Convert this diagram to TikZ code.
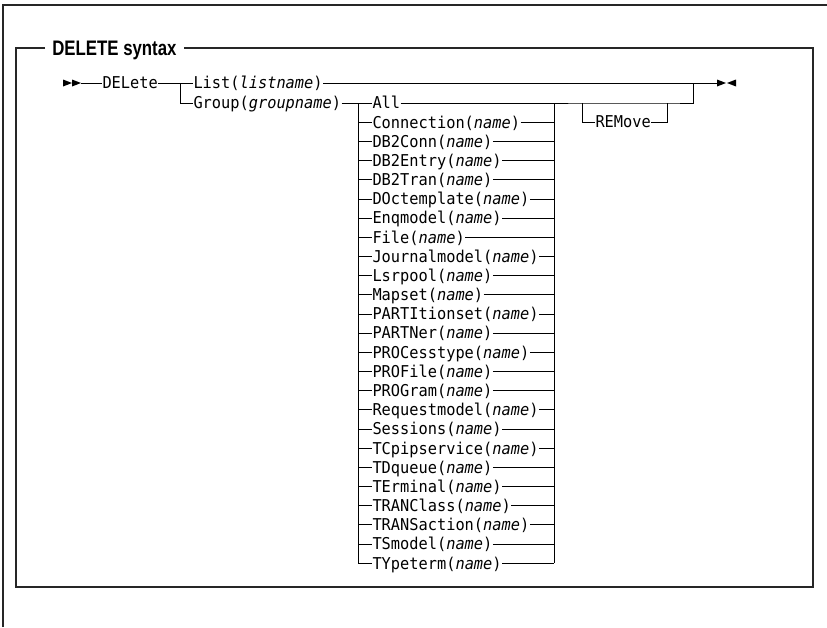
\documentclass[tikz,border=0pt]{standalone}
\usepackage{fontspec}
\setmonofont{DejaVu Sans Mono}[FakeStretch=0.94]
\newfontfamily\titlefont{Liberation Sans}[FakeStretch=0.8]
\usetikzlibrary{positioning}
\tikzset{
  kw/.style={font=\ttfamily\fontsize{16.3}{17}\selectfont, text height=11.9pt, text depth=0pt,
    inner sep=0.5pt, outer sep=0pt, anchor=west},
  boxline/.style={line width=1.3pt, black!85},
  rail/.style={line width=0.7pt}
}
\begin{document}
\begin{tikzpicture}[x=1pt, y=-1pt, rail]
\useasboundingbox (0,0) rectangle (827,627);
% page frame
\draw[boxline] (3,627) -- (3,5) -- (827,5);
% titled box
\node (ttl) at (45,48)[anchor=west, font=\titlefont\bfseries\fontsize{21}{22}\selectfont,
  text height=15.3pt, text depth=0pt, inner xsep=7pt, inner ysep=1pt]{DELETE syntax};
\draw[boxline] (ttl.west) -- (16,48) -- (16,587) -- (813,587) -- (813,48) -- (ttl.east);
% start and end marks
\fill (63,79.5) -- (72,83) -- (63,86.5) -- cycle;
\fill (72,79.5) -- (81,83) -- (72,86.5) -- cycle;
\fill (717,79.5) -- (726,83) -- (717,86.5) -- cycle;
\fill (736,79.5) -- (727,83) -- (736,86.5) -- cycle;
\coordinate (st) at (81,83);
\coordinate (en) at (717,83);
% main line
\node (del) at (102,83)[kw]{DELete};
\node (lst) at (193,83)[kw]{List(\textit{listname})};
\node (grp) at (193,103)[kw]{Group(\textit{groupname})};
\coordinate (dl) at (180,83);
\coordinate (jn) at (693,83);
\draw (st) -- (del.west);
\draw (del.east) -- (lst.west);
\draw (dl) |- (grp.west);
\draw (lst.east) -- (en);
% resource types
\coordinate (gl) at (358,103);
\coordinate (gr) at (554,103);
\draw (grp.east) -- (gl);
\foreach \txt [count=\i from 0] in {All, Connection(\textit{name}), DB2Conn(\textit{name}),
  DB2Entry(\textit{name}), DB2Tran(\textit{name}), DOctemplate(\textit{name}),
  Enqmodel(\textit{name}), File(\textit{name}), Journalmodel(\textit{name}),
  Lsrpool(\textit{name}), Mapset(\textit{name}), PARTItionset(\textit{name}),
  PARTNer(\textit{name}), PROCesstype(\textit{name}), PROFile(\textit{name}),
  PROGram(\textit{name}), Requestmodel(\textit{name}), Sessions(\textit{name}),
  TCpipservice(\textit{name}), TDqueue(\textit{name}), TErminal(\textit{name}),
  TRANClass(\textit{name}), TRANSaction(\textit{name}), TSmodel(\textit{name}),
  TYpeterm(\textit{name})}
{
  \node (it\i) at (372,{103+19.17*\i})[kw]{\txt};
  \draw (gl |- it\i.west) -- (it\i.west);
  \draw (it\i.east) -- (gr |- it\i.east);
}
\draw (gl) -- (gl |- it24.west);
\draw (gr) -- (gr |- it24.east);
% optional REMove
\coordinate (rl) at (582,103);
\coordinate (rr) at (667,103);
\node (rem) at (595,122)[kw]{REMove};
\draw (gr) -- (rl) -- (rr) -| (jn);
\draw (rl) |- (rem.west);
\draw (rem.east) -| (rr);
\end{tikzpicture}
\end{document}
